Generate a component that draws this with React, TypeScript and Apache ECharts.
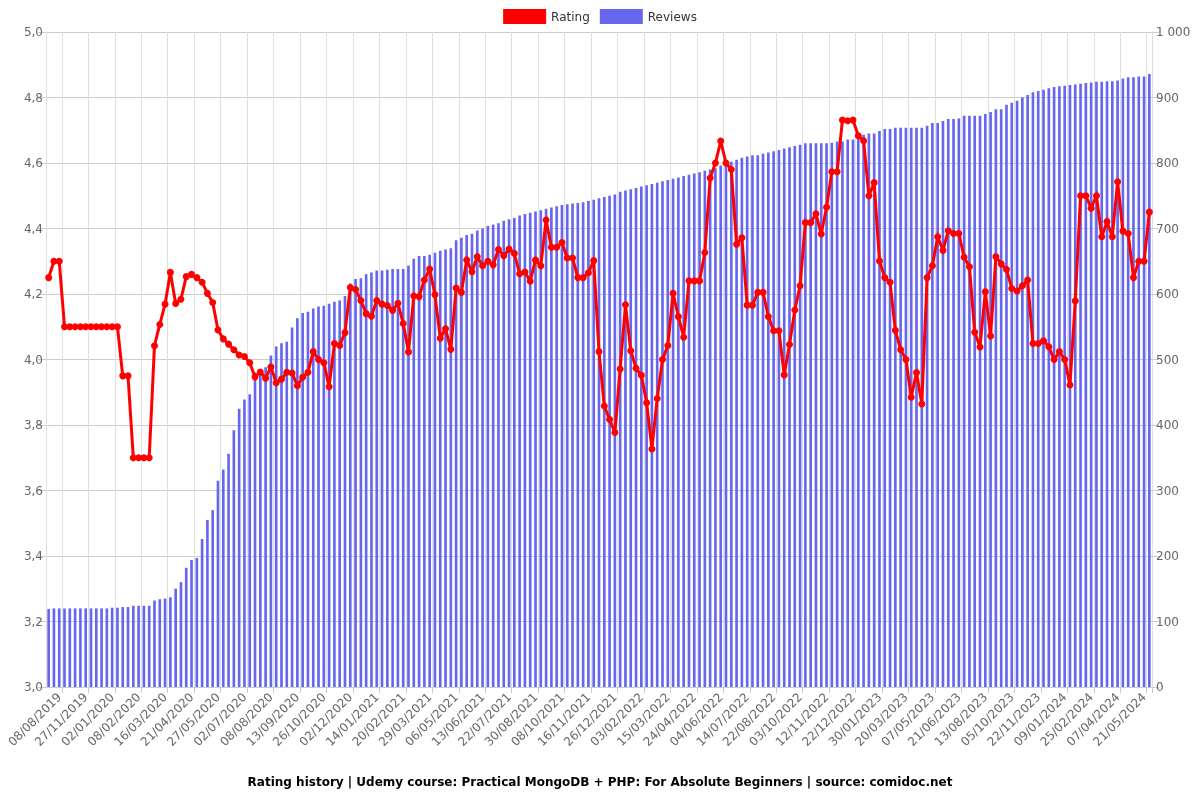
import React, { useEffect, useRef } from 'react';
import * as echarts from 'echarts';

const dateLabels = [
  '08/08/2019', '27/11/2019', '02/01/2020', '08/02/2020', '16/03/2020', '21/04/2020', '27/05/2020',
  '02/07/2020', '08/08/2020', '13/09/2020', '26/10/2020', '02/12/2020', '14/01/2021', '20/02/2021',
  '29/03/2021', '06/05/2021', '13/06/2021', '22/07/2021', '30/08/2021', '08/10/2021', '16/11/2021',
  '26/12/2021', '03/02/2022', '15/03/2022', '24/04/2022', '04/06/2022', '14/07/2022', '22/08/2022',
  '03/10/2022', '12/11/2022', '22/12/2022', '30/01/2023', '20/03/2023', '07/05/2023', '21/06/2023',
  '13/08/2023', '05/10/2023', '22/11/2023', '09/01/2024', '25/02/2024', '07/04/2024', '21/05/2024',
];

const rating = [
  4.25, 4.3, 4.3, 4.1, 4.1, 4.1, 4.1, 4.1, 4.1, 4.1,
  4.1, 4.1, 4.1, 4.1, 3.95, 3.95, 3.7, 3.7, 3.7, 3.7,
  4.042, 4.107, 4.169, 4.266, 4.171, 4.184, 4.253, 4.26, 4.25, 4.236,
  4.202, 4.174, 4.09, 4.063, 4.047, 4.03, 4.014, 4.009, 3.99, 3.947,
  3.962, 3.943, 3.977, 3.929, 3.94, 3.961, 3.959, 3.92, 3.946, 3.961,
  4.024, 4.0, 3.99, 3.917, 4.049, 4.043, 4.082, 4.22, 4.214, 4.18,
  4.14, 4.132, 4.18, 4.169, 4.165, 4.15, 4.172, 4.11, 4.023, 4.194,
  4.192, 4.243, 4.276, 4.198, 4.065, 4.094, 4.031, 4.218, 4.205, 4.304,
  4.268, 4.314, 4.286, 4.3, 4.289, 4.336, 4.317, 4.337, 4.324, 4.262,
  4.267, 4.239, 4.304, 4.286, 4.426, 4.343, 4.343, 4.357, 4.31, 4.31,
  4.25, 4.25, 4.265, 4.302, 4.024, 3.858, 3.817, 3.777, 3.971, 4.167,
  4.027, 3.973, 3.952, 3.868, 3.727, 3.881, 4.0, 4.043, 4.202, 4.131,
  4.068, 4.24, 4.24, 4.24, 4.327, 4.554, 4.6, 4.667, 4.6, 4.58,
  4.352, 4.372, 4.166, 4.166, 4.205, 4.205, 4.131, 4.088, 4.088, 3.953,
  4.046, 4.151, 4.225, 4.418, 4.418, 4.445, 4.383, 4.465, 4.573, 4.573,
  4.731, 4.729, 4.731, 4.683, 4.668, 4.5, 4.54, 4.301, 4.25, 4.236,
  4.089, 4.03, 4.0, 3.885, 3.96, 3.864, 4.25, 4.286, 4.375, 4.333,
  4.393, 4.385, 4.385, 4.312, 4.283, 4.083, 4.038, 4.207, 4.072, 4.314,
  4.292, 4.275, 4.217, 4.209, 4.225, 4.243, 4.049, 4.049, 4.057, 4.039,
  4.0, 4.024, 4.0, 3.922, 4.179, 4.5, 4.5, 4.462, 4.5, 4.375,
  4.421, 4.375, 4.543, 4.392, 4.385, 4.25, 4.3, 4.3, 4.45,
];

const reviews = [
  119, 120, 120, 120, 120, 120, 120, 120, 120, 120,
  120, 120, 121, 121, 122, 122, 124, 124, 124, 124,
  132, 134, 135, 137, 150, 160, 182, 194, 197, 226,
  255, 270, 315, 332, 356, 392, 425, 439, 447, 480,
  482, 488, 506, 520, 525, 527, 549, 563, 571, 573,
  578, 581, 582, 585, 588, 590, 597, 616, 623, 624,
  630, 633, 636, 636, 637, 638, 638, 638, 643, 654,
  658, 658, 660, 663, 666, 668, 670, 682, 686, 690,
  692, 697, 700, 704, 706, 708, 712, 714, 716, 720,
  722, 724, 726, 728, 730, 732, 734, 736, 737, 738,
  739, 740, 742, 744, 746, 748, 750, 752, 756, 758,
  760, 762, 764, 766, 768, 770, 772, 774, 776, 778,
  780, 782, 784, 786, 788, 790, 792, 796, 800, 802,
  805, 808, 810, 812, 812, 814, 816, 818, 820, 822,
  824, 826, 828, 830, 830, 830, 830, 830, 831, 833,
  833, 836, 836, 843, 843, 845, 845, 849, 852, 852,
  854, 854, 854, 854, 854, 854, 857, 861, 861, 864,
  867, 867, 868, 872, 872, 872, 872, 875, 878, 882,
  882, 889, 892, 895, 900, 904, 908, 910, 912, 914,
  916, 917, 918, 919, 920, 921, 922, 923, 924, 924,
  925, 925, 926, 929, 931, 931, 932, 932, 936,
];

const LABEL_OFFSET = 2;
const LABEL_STEP = 5;

function pad(n: number) {
  return n < 10 ? '0' + n : String(n);
}

function buildCategories(count: number): string[] {
  const out: string[] = [];
  for (let k = 0; k < count; k++) {
    let j = Math.floor((k - LABEL_OFFSET) / LABEL_STEP);
    if (j < 0) j = 0;
    if (j > dateLabels.length - 1) j = dateLabels.length - 1;
    const off = k - (LABEL_OFFSET + j * LABEL_STEP);
    const [d, m, y] = dateLabels[j].split('/').map(Number);
    const dt = new Date(Date.UTC(y, m - 1, d + off * 7));
    out.push(pad(dt.getUTCDate()) + '/' + pad(dt.getUTCMonth() + 1) + '/' + dt.getUTCFullYear());
  }
  return out;
}

const categories = buildCategories(rating.length);

export default function App() {
  const ref = useRef<HTMLDivElement>(null);
  useEffect(() => {
    const chart = echarts.init(ref.current as HTMLDivElement, null, { renderer: 'svg' });
    const tickFn = (i: number) => i % LABEL_STEP === 3;
    const labelFn = (i: number) => i % LABEL_STEP === LABEL_OFFSET;
    chart.setOption({
      animation: false,
      textStyle: { fontFamily: 'DejaVu Sans' },
      title: {
        text: 'Rating history | Udemy course: Practical MongoDB + PHP: For Absolute Beginners | source: comidoc.net',
        left: 'center',
        top: 776,
        padding: 0,
        textStyle: { fontSize: 12, fontWeight: 'bold', color: '#000', fontFamily: 'DejaVu Sans' },
      },
      legend: {
        top: 9,
        left: 'center',
        padding: 0,
        itemWidth: 43,
        itemHeight: 15,
        itemGap: 10,
        textStyle: { fontSize: 12, color: '#333' },
        data: [
          { name: 'Rating', icon: 'rect' },
          { name: 'Reviews', icon: 'rect' },
        ],
      },
      grid: { left: 46, right: 48, top: 32, bottom: 113, containLabel: false },
      xAxis: {
        type: 'category',
        data: categories,
        boundaryGap: true,
        axisLine: { show: true, lineStyle: { color: '#ccc' } },
        axisTick: { show: true, interval: tickFn, length: 6, lineStyle: { color: '#ccc' } },
        splitLine: { show: true, interval: tickFn, lineStyle: { color: '#e0e0e0' } },
        axisLabel: { interval: labelFn, rotate: 45, fontSize: 12, color: '#666', margin: 8 },
      },
      yAxis: [
        {
          type: 'value',
          min: 3,
          max: 5,
          interval: 0.2,
          position: 'left',
          axisLine: { show: true, lineStyle: { color: '#e0e0e0' } },
          axisTick: { show: true, length: 8, lineStyle: { color: '#ccc' } },
          splitLine: { show: true, lineStyle: { color: '#ccc' } },
          axisLabel: {
            fontSize: 12,
            color: '#666',
            margin: 3,
            formatter: (v: number) => v.toFixed(1).replace('.', ','),
          },
        },
        {
          type: 'value',
          min: 0,
          max: 1000,
          interval: 100,
          position: 'right',
          axisLine: { show: true, lineStyle: { color: '#e0e0e0' } },
          axisTick: { show: true, length: 7, lineStyle: { color: '#ccc' } },
          splitLine: { show: false },
          axisLabel: {
            fontSize: 12,
            color: '#666',
            margin: 4,
            formatter: (v: number) => String(v).replace(/\B(?=(\d{3})+(?!\d))/g, ' '),
          },
        },
      ],
      series: [
        {
          name: 'Reviews',
          type: 'bar',
          yAxisIndex: 1,
          data: reviews,
          barWidth: '50%',
          itemStyle: { color: '#6666ee' },
          z: 1,
        },
        {
          name: 'Rating',
          type: 'line',
          yAxisIndex: 0,
          data: rating,
          symbol: 'circle',
          symbolSize: 7,
          showSymbol: true,
          showAllSymbol: true,
          itemStyle: { color: '#ff0000' },
          lineStyle: { color: '#ff0000', width: 3, join: 'miter' },
          z: 3,
        },
      ],
    });
    return () => chart.dispose();
  }, []);
  return <div ref={ref} style={{ position: 'fixed', left: 0, top: 0, width: 1200, height: 800 }} />;
}
